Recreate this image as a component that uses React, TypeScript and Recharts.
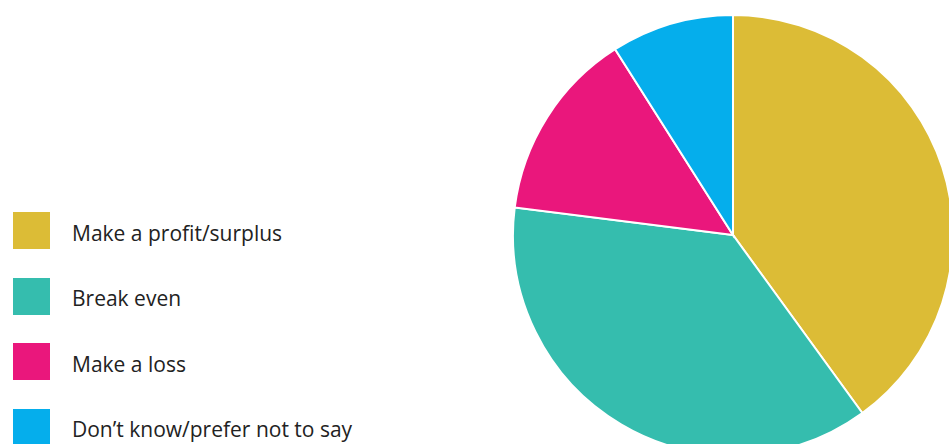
import { Cell, Pie, PieChart } from "recharts";

const categories = [
    "Make a profit/surplus",
    "Break even",
    "Make a loss",
    "Don’t know/prefer not to say",
];
const shares = [40, 37, 14, 9];
const colors = ["#DCBC36", "#35BDAE", "#EA177C", "#05AEEC"];

const data = categories.map((name, i) => ({ name, value: shares[i] }));

function LegendList() {
    return (
        <div
            style={{
                position: "absolute",
                left: 13,
                top: 212,
                fontFamily: "'Open Sans', sans-serif",
                fontSize: 21,
                color: "#222",
            }}
        >
            {categories.map((name, i) => (
                <div
                    key={name}
                    style={{ display: "flex", alignItems: "center", height: 37, marginBottom: 28.5 }}
                >
                    <span style={{ width: 37, height: 37, background: colors[i], display: "inline-block", flex: "none" }} />
                    <span style={{ marginLeft: 22, whiteSpace: "nowrap", position: "relative", top: 2 }}>{name}</span>
                </div>
            ))}
        </div>
    );
}

export default function App() {
    return (
        <div style={{ position: "fixed", left: 0, top: 0, width: 949, height: 444, background: "#fff", overflow: "hidden" }}>
            <PieChart width={949} height={444} margin={{ top: 0, right: 0, bottom: 0, left: 0 }}>
                <Pie
                    data={data}
                    dataKey="value"
                    nameKey="name"
                    cx={733}
                    cy={235}
                    outerRadius={220}
                    startAngle={90}
                    endAngle={-270}
                    stroke="#fff"
                    strokeWidth={2}
                    isAnimationActive={false}
                >
                    {data.map((d, i) => (
                        <Cell key={d.name} fill={colors[i]} />
                    ))}
                </Pie>
            </PieChart>
            <LegendList />
        </div>
    );
}
